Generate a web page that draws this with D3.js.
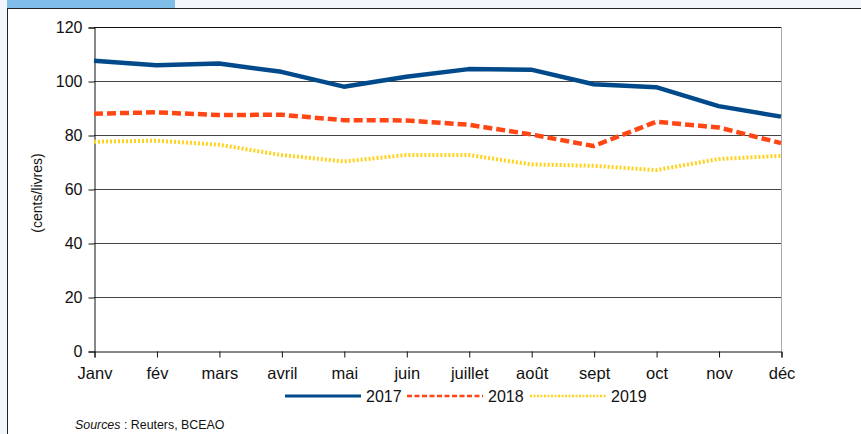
<!DOCTYPE html>
<html>
<head>
<meta charset="utf-8">
<script src="https://cdn.jsdelivr.net/npm/d3@7"></script>
<style>
  body { margin: 0; background: #f3f7fb; }
  svg { display: block; font-family: "Liberation Sans", Arial, sans-serif; }
</style>
</head>
<body>
<div id="chart"></div>
<script>
// Data
const months = ["Janv", "fév", "mars", "avril", "mai", "juin", "juillet", "août", "sept", "oct", "nov", "déc"];
const values2017 = [107.5, 105.8, 106.5, 103.4, 97.9, 101.6, 104.4, 104.2, 98.8, 97.7, 90.7, 86.8];
const values2018 = [87.9, 88.4, 87.4, 87.5, 85.5, 85.4, 83.8, 80.2, 75.9, 84.9, 82.8, 77.0];
const values2019 = [77.5, 77.9, 76.4, 72.6, 70.2, 72.6, 72.6, 69.1, 68.6, 67.0, 71.1, 72.3];
const yTicks = [0, 20, 40, 60, 80, 100, 120];

const series = [
    { name: "2017", values: values2017, color: "#004a8c", width: 4.5, dash: null },
    { name: "2018", values: values2018, color: "#ff4614", width: 4.5, dash: "9,4" },
    { name: "2019", values: values2019, color: "#ffd21e", width: 4, dash: "2,2" }
];

const width = 861, height = 434;
const plot = { left: 94, right: 781, top: 27, bottom: 351 };

const svg = d3.select("#chart").append("svg")
    .attr("width", width)
    .attr("height", height);

// Frame: blue tab, top border, left border, white panel
svg.append("rect").attr("x", 7).attr("y", 8).attr("width", width - 7).attr("height", height - 8).attr("fill", "#fff");
svg.append("rect").attr("x", 7).attr("y", 0).attr("width", 168).attr("height", 8).attr("fill", "#80bde8");
svg.append("line").attr("x1", 7).attr("x2", width).attr("y1", 8.5).attr("y2", 8.5).attr("stroke", "#222");
svg.append("line").attr("x1", 7.5).attr("x2", 7.5).attr("y1", 8).attr("y2", height).attr("stroke", "#222");

const x = d3.scalePoint().domain(months).range([plot.left, plot.right]);
const y = d3.scaleLinear().domain([0, 120]).range([plot.bottom, plot.top]);

// Gridlines
svg.append("g")
    .selectAll("line")
    .data(yTicks.filter(d => d > 0))
    .join("line")
    .attr("x1", plot.left).attr("x2", plot.right)
    .attr("y1", d => Math.round(y(d)) + 0.5).attr("y2", d => Math.round(y(d)) + 0.5)
    .attr("stroke", d => d === 120 ? "#111" : "#444")
    .attr("stroke-width", 1);

// Right border of plot area
svg.append("line")
    .attr("x1", plot.right + 0.5).attr("x2", plot.right + 0.5)
    .attr("y1", plot.top).attr("y2", plot.bottom)
    .attr("stroke", "#aaa");

// Y axis
const yAxis = svg.append("g")
    .attr("transform", `translate(${plot.left + 0.5},0.5)`)
    .call(d3.axisLeft(y).tickValues(yTicks).tickSize(6).tickPadding(6));
yAxis.select(".domain").attr("stroke", "#111");
yAxis.selectAll(".tick line").attr("stroke", "#111");
yAxis.selectAll("text").attr("font-size", 16).attr("fill", "#111").attr("font-family", "Liberation Sans, Arial, sans-serif");

// X axis
const xAxis = svg.append("g")
    .attr("transform", `translate(0.5,${plot.bottom + 0.5})`)
    .call(d3.axisBottom(x).tickSize(6).tickPadding(9.5));
xAxis.select(".domain").attr("stroke", "#111");
xAxis.selectAll(".tick line").attr("stroke", "#111");
xAxis.selectAll("text").attr("font-size", 16.5).attr("fill", "#111").attr("font-family", "Liberation Sans, Arial, sans-serif");

// Y axis title
svg.append("text")
    .attr("transform", "translate(42,193) rotate(-90)")
    .attr("text-anchor", "middle")
    .attr("font-size", 14)
    .attr("fill", "#111")
    .text("(cents/livres)");

// Lines
const line = d3.line()
    .x((d, i) => x(months[i]))
    .y(d => y(d));

svg.append("g")
    .selectAll("path")
    .data(series)
    .join("path")
    .attr("d", d => line(d.values))
    .attr("fill", "none")
    .attr("stroke", d => d.color)
    .attr("stroke-width", d => d.width)
    .attr("stroke-dasharray", d => d.dash)
    .attr("stroke-linejoin", "round");

// Legend
const legendX = [285, 407, 530];
const legend = svg.append("g")
    .selectAll("g")
    .data(series)
    .join("g")
    .attr("transform", (d, i) => `translate(${legendX[i]},396)`);
legend.append("line")
    .attr("x1", 0).attr("x2", 76)
    .attr("stroke", d => d.color)
    .attr("stroke-width", d => d.name === "2017" ? 3 : 2.5)
    .attr("stroke-dasharray", d => d.dash ? (d.name === "2018" ? "5,2.5" : "2,1.5") : null);
legend.append("text")
    .attr("x", 81)
    .attr("y", 5.8)
    .attr("font-size", 16)
    .attr("fill", "#111")
    .text(d => d.name);

// Source note
const note = svg.append("text")
    .attr("x", 75)
    .attr("y", 429)
    .attr("font-size", 12.4)
    .attr("fill", "#111");
note.append("tspan").attr("font-style", "italic").text("Sources");
note.append("tspan").text(" : Reuters, BCEAO");
</script>
</body>
</html>
